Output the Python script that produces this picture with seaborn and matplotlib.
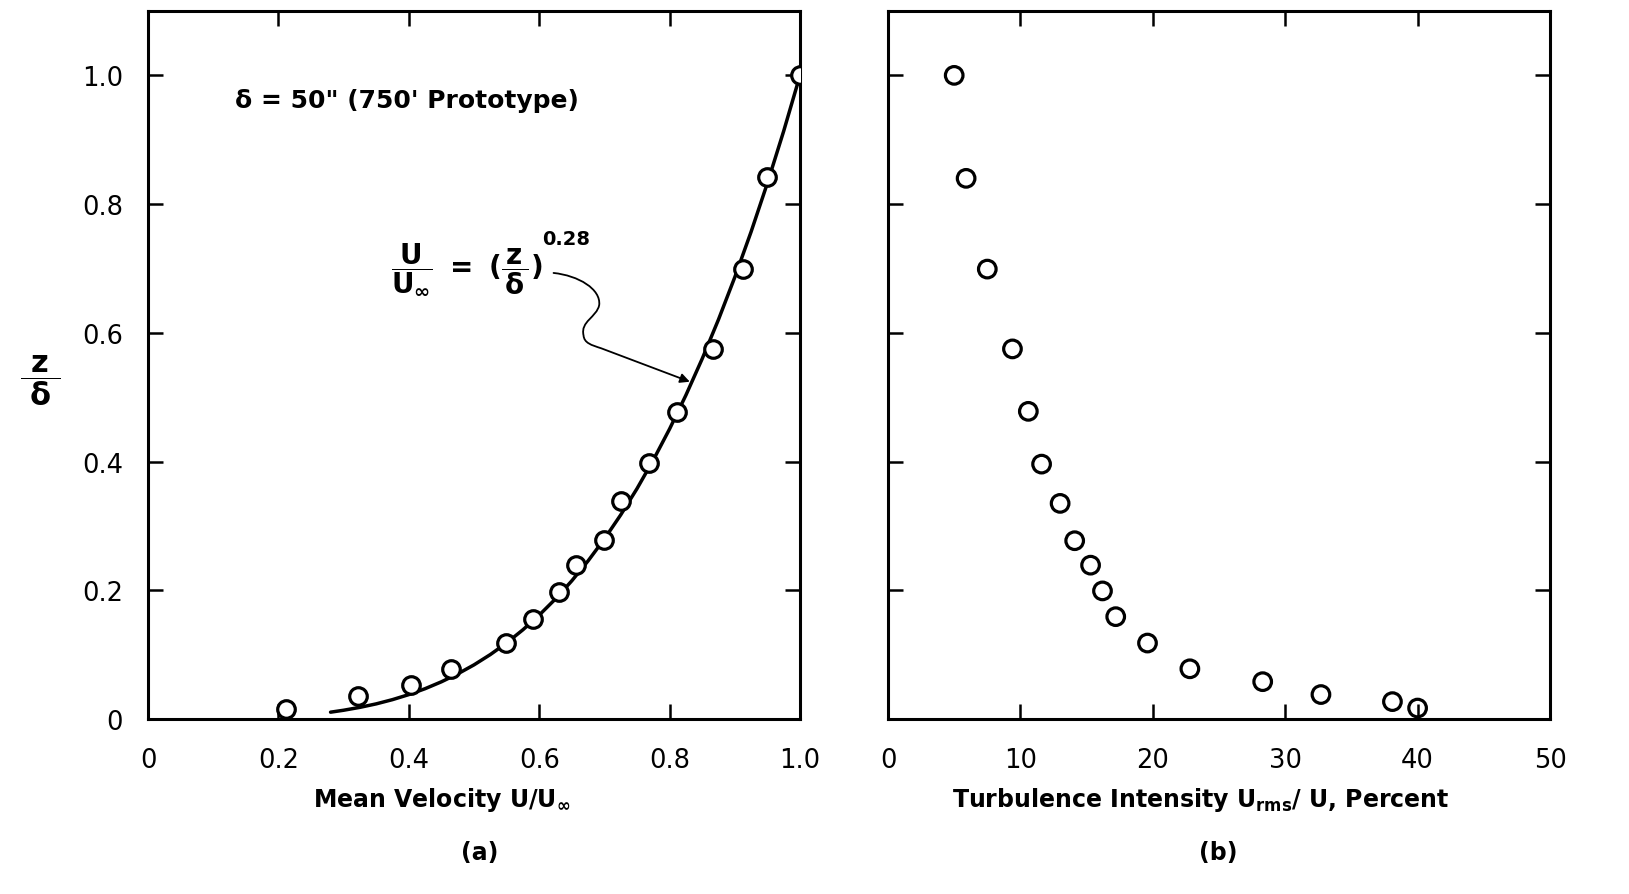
import numpy as np
import pandas as pd
import matplotlib
matplotlib.use("Agg")
import matplotlib.pyplot as plt
import seaborn as sb
from matplotlib.path import Path
from matplotlib.patches import FancyArrowPatch

# datos
# (a) velocidad media
U_MEAN = [1.0, 0.949, 0.912, 0.866, 0.812, 0.768, 0.726, 0.700, 0.657, 0.631,
          0.591, 0.549, 0.465, 0.403, 0.322, 0.211]
Z_MEAN = [1.0, 0.842, 0.699, 0.575, 0.477, 0.398, 0.339, 0.278, 0.239, 0.197,
          0.155, 0.118, 0.078, 0.053, 0.036, 0.016]

# curva U/Uinf = (z/delta)^0.28 (puntos leidos sobre la linea)
U_CURVA = [0.28, 0.30, 0.325, 0.35, 0.375, 0.40, 0.425, 0.45, 0.475, 0.50,
           0.525, 0.55, 0.575, 0.60, 0.625, 0.65, 0.675, 0.70, 0.725, 0.75,
           0.775, 0.80, 0.825, 0.85, 0.875, 0.90, 0.925, 0.95, 0.975, 1.00]
Z_CURVA = [0.0106, 0.0136, 0.0181, 0.0235, 0.0301, 0.0379, 0.0471, 0.0578, 0.0701, 0.0841,
           0.1001, 0.1182, 0.1386, 0.1614, 0.1866, 0.2147, 0.2457, 0.2798, 0.3171, 0.3579,
           0.4024, 0.4507, 0.5031, 0.5597, 0.6207, 0.6864, 0.7570, 0.8326, 0.9135, 1.000]

# (b) intensidad de turbulencia
TURB = [5.0, 5.9, 7.5, 9.4, 10.6, 11.6, 13.0, 14.1, 15.3, 16.2, 17.2, 19.6,
        22.8, 28.3, 32.7, 38.1, 40.0]
Z_TURB = [1.0, 0.840, 0.699, 0.575, 0.478, 0.396, 0.335, 0.277, 0.239, 0.199,
          0.159, 0.118, 0.078, 0.058, 0.038, 0.027, 0.017]

XT_A = [0, 0.2, 0.4, 0.6, 0.8, 1.0]
XT_B = [0, 10, 20, 30, 40, 50]
YT = [0, 0.2, 0.4, 0.6, 0.8, 1.0]

sb.set_style("ticks")
plt.rcParams['font.family'] = ['DejaVu Sans']
plt.rcParams['text.color'] = 'black'
plt.rcParams['axes.labelcolor'] = 'black'
plt.rcParams['mathtext.fontset'] = 'custom'
plt.rcParams['mathtext.rm'] = 'DejaVu Sans:bold'
plt.rcParams['mathtext.it'] = 'DejaVu Sans:bold'
plt.rcParams['mathtext.bf'] = 'DejaVu Sans:bold'
plt.rcParams['mathtext.default'] = 'rm'

fig = plt.figure(figsize=(16.29, 8.95), dpi=100)
ax1 = fig.add_axes([148/1629, 1-720/895, 652/1629, 708/895])
ax2 = fig.add_axes([888/1629, 1-720/895, 662/1629, 708/895])

df_a = pd.DataFrame({'U': U_MEAN, 'z': Z_MEAN})
df_c = pd.DataFrame({'U': U_CURVA, 'z': Z_CURVA})
df_b = pd.DataFrame({'T': TURB, 'z': Z_TURB})

sb.lineplot(data=df_c, x='U', y='z', ax=ax1, color='black', lw=2.5, sort=False)
sb.scatterplot(data=df_a, x='U', y='z', ax=ax1, marker='o', s=160,
               facecolors='white', edgecolors='black', linewidth=2.3, zorder=3)
sb.scatterplot(data=df_b, x='T', y='z', ax=ax2, marker='o', s=160,
               facecolors='none', edgecolors='black', linewidth=2.3, zorder=3)

for ax in (ax1, ax2):
    ax.set_ylim(0, 1.1)
    ax.set_yticks(YT)
    ax.set_xlabel('')
    ax.set_ylabel('')
    ax.tick_params(direction='in', length=11, width=1.8, top=True, right=True,
                   labelsize=18.5, colors='black')
    ax.tick_params(axis='x', pad=20)
    ax.tick_params(axis='y', pad=18)
    for s in ax.spines.values():
        s.set_linewidth(2.2)
        s.set_color('black')

ax1.set_xlim(0, 1.0)
ax1.set_xticks(XT_A)
ax1.set_xticklabels(['0', '0.2', '0.4', '0.6', '0.8', '1.0'])
ax1.set_yticklabels(['0', '0.2', '0.4', '0.6', '0.8', '1.0'])
ax2.set_xlim(0, 50)
ax2.set_xticks(XT_B)
ax2.set_xticklabels([str(v) for v in XT_B])
ax2.set_yticklabels([])

# textos
ax1.text(0.134, 0.961, "δ = 50\" (750' Prototype)", fontsize=18, fontweight='bold',
         ha='left', va='center')
ax1.text(0.372, 0.70, r"$\dfrac{\,U\,}{U_\infty}\ =\ (\dfrac{\,z\,}{\delta})$", fontsize=20,
         ha='left', va='center')
ax1.text(0.605, 0.746, "0.28", fontsize=14, fontweight='bold', ha='left', va='center')

# flecha curva hacia la linea
verts = [(0.622, 0.693),
         (0.660, 0.689), (0.695, 0.668), (0.692, 0.643),
         (0.688, 0.624), (0.663, 0.618), (0.668, 0.596),
         (0.669, 0.584), (0.680, 0.581), (0.695, 0.576),
         (0.831, 0.524)]
codes = [Path.MOVETO] + [Path.CURVE4]*9 + [Path.LINETO]
arr = FancyArrowPatch(path=Path(verts, codes), arrowstyle='-|>', mutation_scale=14,
                      lw=1.3, color='black', transform=ax1.transData)
ax1.add_patch(arr)

fig.text(0.0246, 0.575, r"$\dfrac{\ z\ }{\delta}$", fontsize=22, ha='center', va='center')
fig.text(442/1629, 1-800/895, r"Mean Velocity $U/U_\infty$", fontsize=17,
         fontweight='bold', ha='center', va='center')
fig.text(480/1629, 1-853/895, "(a)", fontsize=17, fontweight='bold', ha='center', va='center')
fig.text(1201/1629, 1-800/895, r"Turbulence Intensity $U_{rms}$/ U, Percent", fontsize=17,
         fontweight='bold', ha='center', va='center')
fig.text(1218/1629, 1-853/895, "(b)", fontsize=17, fontweight='bold', ha='center', va='center')

fig.savefig('out.png', dpi=100, facecolor='white')
